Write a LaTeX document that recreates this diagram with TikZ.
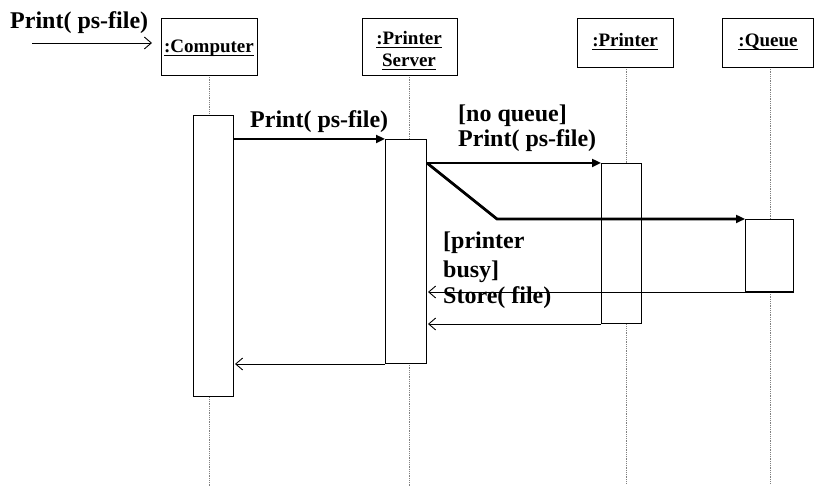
\documentclass[tikz,border=0pt]{standalone}
\usepackage{fontspec}
\setmainfont{Liberation Serif}
\usetikzlibrary{arrows.meta,calc}

% underline set just below the baseline, crossing descenders
\newcommand\objname[1]{\setbox0\hbox{#1}\rlap{\rule[-3.5pt]{\wd0}{1pt}}\box0}

\tikzset{
  head/.style={draw, line width=1pt, fill=white, anchor=north west, inner sep=0pt},
  hname/.style={font=\fontsize{19}{22}\selectfont\bfseries, anchor=base, inner sep=0pt},
  act/.style={draw, line width=1pt, fill=white, anchor=north west, inner sep=0pt},
  life/.style={densely dotted, gray, line width=0.8pt},
  call/.style={line width=2.8pt, -{Triangle[length=9pt,width=8pt]}},
  reply/.style={line width=0.9pt, -{Straight Barb[length=7pt,width=12pt,line width=0.9pt]}},
  lbl/.style={anchor=base west, inner sep=0pt, font=\fontsize{24}{28}\selectfont\bfseries, align=left},
}

\begin{document}
\begin{tikzpicture}[x=1pt,y=-1pt]
  \useasboundingbox (0,0) rectangle (814,486);

  % lifelines
  \draw[life] (209,75) -- (209,486);
  \draw[life] (409,75) -- (409,486);
  \draw[life] (626,67) -- (626,484);
  \draw[life] (770,67) -- (770,484);

  % object heads
  \node[head, minimum width=96pt, minimum height=57pt] (compHead) at (161,18) {};
  \node[hname] (compTxt) at (209,53) {\objname{:Computer}};

  \node[head, minimum width=95pt, minimum height=57pt] (srvHead) at (362,18) {};
  \node[hname] (srvTxtA) at (409,45) {\objname{:Printer}};
  \node[hname] (srvTxtB) at (409,67) {\objname{Server}};

  \node[head, minimum width=96pt, minimum height=49pt] (prnHead) at (577,18) {};
  \node[hname] (prnTxt) at (625,47) {\objname{:Printer}};

  \node[head, minimum width=91pt, minimum height=49pt] (queHead) at (722,18) {};
  \node[hname] (queTxt) at (768,47) {\objname{:Queue}};

  % activation bars
  \node[act, minimum width=40pt, minimum height=281pt] (compAct) at (193,115) {};
  \node[act, minimum width=41pt, minimum height=224pt] (srvAct) at (385,139) {};
  \node[act, minimum width=40pt, minimum height=160pt] (prnAct) at (601,163) {};
  \node[act, minimum width=48pt, minimum height=72pt] (queAct) at (745,219) {};

  % incoming message
  \coordinate (inStart) at (32,43);
  \node[lbl] (inLbl) at (10,29) {Print( ps-file)};
  \draw[reply] (inStart) -- ([xshift=-9pt]inStart -| compHead.west);

  % calls
  \draw[call] (compAct.east |- srvAct.north) -- (srvAct.north west);
  \node[lbl] (m1Lbl) at (250,128) {Print( ps-file)};

  \draw[call] (srvAct.east |- prnAct.north) -- (prnAct.north west);
  \node[lbl] (m2LblA) at (458,122) {[no queue]};
  \node[lbl] (m2LblB) at (458,147) {Print( ps-file)};

  \coordinate (bend) at (497,219);
  \draw[call, line join=miter] (srvAct.east |- prnAct.north) -- (bend) -- (queAct.north west);
  \node[lbl] (m3LblA) at (443,249) {[printer};
  \node[lbl] (m3LblB) at (443,278) {busy]};
  \node[lbl] (m3LblC) at (443,304) {Store( file)};

  % replies
  \draw[reply] (queAct.south east) -- ([xshift=1pt]srvAct.east |- queAct.south);
  \draw[reply] (prnAct.south west) -- ([xshift=1pt]srvAct.east |- prnAct.south);
  \draw[reply] (srvAct.south west) -- ([xshift=1pt]compAct.east |- srvAct.south);
\end{tikzpicture}
\end{document}
